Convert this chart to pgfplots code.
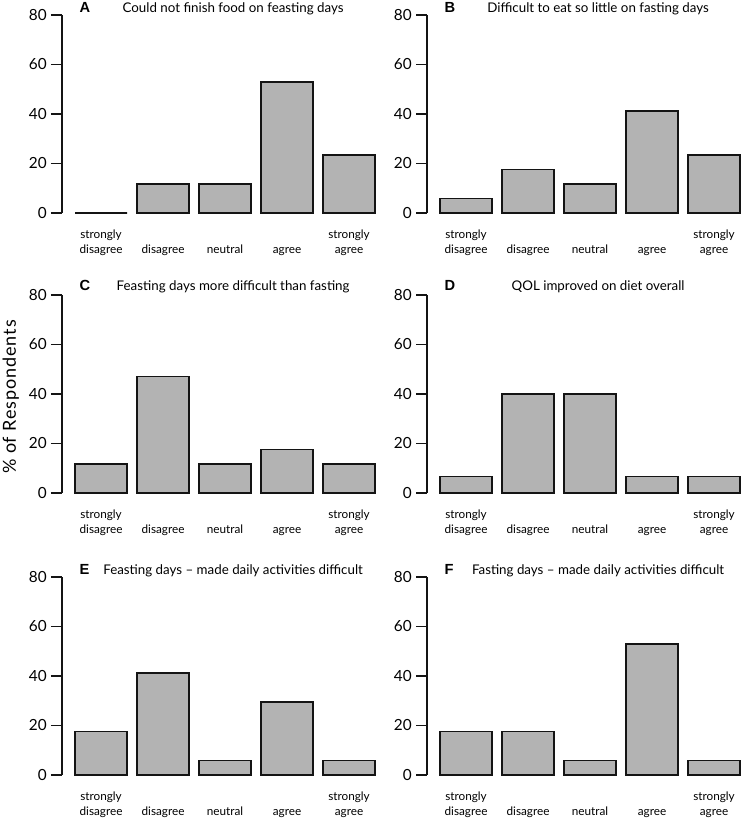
\documentclass[border=0pt]{standalone}
\usepackage{pgfplots}
\pgfplotsset{compat=1.18}
\usepackage{fontspec}
\setmainfont{Lato}
\newfontfamily\letterfont{Liberation Sans}
\definecolor{barfill}{RGB}{179,179,179}
\definecolor{ink}{RGB}{20,20,20}

\pgfplotsset{panel/.style={
  x=46.5pt, y=1.85625pt,
  xmin=0.37, xmax=5.45, ymin=0, ymax=80,
  anchor=south west,
  separate axis lines,
  axis x line*=bottom, axis y line*=left,
  x axis line style={draw=none},
  y axis line style={-, line width=1.3pt, ink},
  xtick={1,2,3,4,5},
  xticklabels={{\strut strongly\\\strut disagree},{\strut\\\strut disagree},{\strut\\\strut neutral},{\strut\\\strut agree},{\strut strongly\\\strut agree}},
  x tick style={draw=none},
  x tick label style={font=\fontsize{8.8}{11.6}\selectfont, align=center, anchor=north, inner sep=0pt, yshift=-2.2pt},
  ytick={0,20,40,60,80},
  tick align=outside,
  y tick style={line width=1.3pt, ink},
  major tick length=8.25pt,
  y tick label style={font=\fontsize{11.5}{13}\selectfont, inner sep=0pt, xshift=-3pt},
  /pgf/number format/assume math mode=true,
  clip=false,
  ybar, bar width=39pt,
}}
\newcommand{\paneltitle}[3]{%
  \node[anchor=base west, font=\letterfont\bfseries\fontsize{11}{13}\selectfont, yshift=#3] at (axis cs:0.58,80) {#1};
  \node[anchor=base, font=\fontsize{10}{12}\selectfont, yshift=#3] at (axis cs:3.13,80) {#2};
}

\begin{document}
\begin{tikzpicture}
\useasboundingbox (0,0) rectangle (555.75pt,613.5pt);

\begin{axis}[panel, at={(46.5pt,453.75pt)}]
\addplot[fill=barfill, draw=ink, line width=1.2pt] coordinates {(1,0) (2,11.76) (3,11.76) (4,52.94) (5,23.53)};
\paneltitle{A}{Could not finish food on feasting days}{1.5pt}
\end{axis}

\begin{axis}[panel, at={(320.25pt,453.75pt)}]
\addplot[fill=barfill, draw=ink, line width=1.2pt] coordinates {(1,5.88) (2,17.65) (3,11.76) (4,41.18) (5,23.53)};
\paneltitle{B}{Difficult to eat so little on fasting days}{1.5pt}
\end{axis}

\begin{axis}[panel, at={(46.5pt,243.75pt)}]
\addplot[fill=barfill, draw=ink, line width=1.2pt] coordinates {(1,11.76) (2,47.06) (3,11.76) (4,17.65) (5,11.76)};
\paneltitle{C}{Feasting days more difficult than fasting}{3.5pt}
\end{axis}

\begin{axis}[panel, at={(320.25pt,243.75pt)}]
\addplot[fill=barfill, draw=ink, line width=1.2pt] coordinates {(1,6.67) (2,40) (3,40) (4,6.67) (5,6.67)};
\paneltitle{D}{QOL improved on diet overall}{3.5pt}
\end{axis}

\begin{axis}[panel, at={(46.5pt,32.25pt)}]
\addplot[fill=barfill, draw=ink, line width=1.2pt] coordinates {(1,17.65) (2,41.18) (3,5.88) (4,29.41) (5,5.88)};
\paneltitle{E}{Feasting days – made daily activities difficult}{2pt}
\end{axis}

\begin{axis}[panel, at={(320.25pt,32.25pt)}]
\addplot[fill=barfill, draw=ink, line width=1.2pt] coordinates {(1,17.65) (2,17.65) (3,5.88) (4,52.94) (5,5.88)};
\paneltitle{F}{Fasting days – made daily activities difficult}{2pt}
\end{axis}

\node[rotate=90, font=\fontsize{13.5}{15}\selectfont\addfontfeature{LetterSpace=5}] at (8pt,315.75pt) {\% of Respondents};
\end{tikzpicture}
\end{document}
